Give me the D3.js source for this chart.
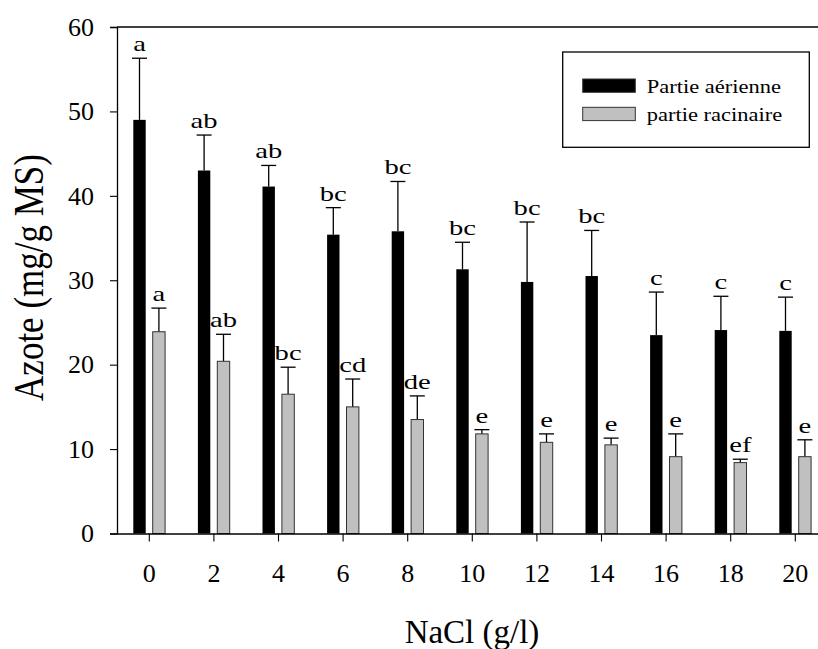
<!DOCTYPE html>
<html>
<head>
<meta charset="utf-8">
<script src="https://cdn.jsdelivr.net/npm/d3@7"></script>
<style>
  body { margin: 0; background: #fff; }
  svg text { font-family: "Liberation Serif", "Times New Roman", serif; fill: #000; }
</style>
</head>
<body>
<div id="app"></div>
<script>
// NaCl concentrations (g/l)
const categories = ['0', '2', '4', '6', '8', '10', '12', '14', '16', '18', '20'];
// Partie aérienne
const aerValues = [49.0, 43.0, 41.1, 35.4, 35.8, 31.3, 29.8, 30.5, 23.5, 24.1, 24.0];
const aerErrTop = [56.3, 47.2, 43.6, 38.6, 41.7, 34.5, 36.9, 35.9, 28.6, 28.1, 28.0];
const aerLetters = ['a', 'ab', 'ab', 'bc', 'bc', 'bc', 'bc', 'bc', 'c', 'c', 'c'];
// partie racinaire
const racValues = [23.9, 20.4, 16.5, 15.0, 13.5, 11.8, 10.8, 10.5, 9.1, 8.4, 9.1];
const racErrTop = [26.7, 23.6, 19.7, 18.3, 16.3, 12.3, 11.8, 11.3, 11.8, 8.8, 11.1];
const racLetters = ['a', 'ab', 'bc', 'cd', 'de', 'e', 'e', 'e', 'e', 'ef', 'e'];
const yTicks = [0, 10, 20, 30, 40, 50, 60];
const seriesNames = ['Partie aérienne', 'partie racinaire'];
const seriesColors = ['#000000', '#c0c0c0'];

const width = 818, height = 649;
const svg = d3.select('#app').append('svg')
  .attr('width', width)
  .attr('height', height);

const x = d3.scaleBand()
  .domain(categories)
  .range([117, 117 + 64.6 * categories.length]);

const y = d3.scaleLinear()
  .domain([0, 60])
  .range([533.5, 27]);

const series = [
  {key: 0, values: aerValues, err: aerErrTop, letters: aerLetters, offset: -16},
  {key: 1, values: racValues, err: racErrTop, letters: racLetters, offset: 3.4},
];
const barW = 12.4;

// bars
series.forEach((s) => {
  const g = svg.append('g');
  const rows = categories.map((c, i) => ({c, v: s.values[i], e: s.err[i], l: s.letters[i]}));
  const cx = (d) => x(d.c) + x.bandwidth() / 2 + s.offset + barW / 2;

  g.selectAll('line.err')
    .data(rows)
    .enter()
    .append('line')
    .attr('x1', cx)
    .attr('x2', cx)
    .attr('y1', (d) => y(d.v))
    .attr('y2', (d) => y(d.e))
    .attr('stroke', '#000')
    .attr('stroke-width', 1.3);

  g.selectAll('line.cap')
    .data(rows)
    .enter()
    .append('line')
    .attr('x1', (d) => cx(d) - 7.5)
    .attr('x2', (d) => cx(d) + 7.5)
    .attr('y1', (d) => y(d.e))
    .attr('y2', (d) => y(d.e))
    .attr('stroke', '#000')
    .attr('stroke-width', 1.3);

  g.selectAll('rect')
    .data(rows)
    .enter()
    .append('rect')
    .attr('x', (d) => cx(d) - barW / 2)
    .attr('y', (d) => y(d.v))
    .attr('width', barW)
    .attr('height', (d) => y(0) - y(d.v))
    .attr('fill', seriesColors[s.key])
    .attr('stroke', s.key === 0 ? 'none' : '#333')
    .attr('stroke-width', 1);

  g.selectAll('text')
    .data(rows)
    .enter()
    .append('text')
    .attr('text-anchor', 'middle')
    .attr('font-size', 22)
    .attr('transform', (d) => `translate(${cx(d)},${y(d.e) - 7}) scale(1.3,1)`)
    .text((d) => d.l);
});

// axes
const yAxis = svg.append('g')
  .attr('transform', 'translate(117,0)')
  .call(d3.axisLeft(y).tickValues(yTicks).tickSize(7).tickPadding(16));
yAxis.select('.domain').attr('stroke-width', 1.3);
yAxis.selectAll('.tick line').attr('stroke-width', 1.1);
yAxis.selectAll('text')
  .attr('font-size', 26)
  .attr('font-family', '"Liberation Serif", "Times New Roman", serif');

const xAxis = svg.append('g')
  .attr('transform', `translate(0,${y(0)})`)
  .call(d3.axisBottom(x).tickSize(8).tickPadding(22).tickSizeOuter(0));
xAxis.select('.domain').attr('stroke-width', 1.3);
xAxis.selectAll('.tick line').attr('stroke-width', 1.1);
xAxis.selectAll('text')
  .attr('font-size', 26)
  .attr('font-family', '"Liberation Serif", "Times New Roman", serif');

// top frame line
svg.append('line')
  .attr('x1', 117).attr('x2', width)
  .attr('y1', y(60)).attr('y2', y(60))
  .attr('stroke', '#000')
  .attr('stroke-width', 1.3);

// axis titles
svg.append('text')
  .attr('x', 472)
  .attr('y', 643)
  .attr('text-anchor', 'middle')
  .attr('font-size', 33)
  .text('NaCl (g/l)');

svg.append('text')
  .attr('transform', 'translate(43,277.5) rotate(-90) scale(1,1.2)')
  .attr('text-anchor', 'middle')
  .attr('font-size', 35)
  .text('Azote (mg/g MS)');

// legend
const legend = svg.append('g');
legend.append('rect')
  .attr('x', 562.7).attr('y', 52)
  .attr('width', 246.6).attr('height', 95.3)
  .attr('fill', '#fff')
  .attr('stroke', '#000')
  .attr('stroke-width', 1.3);
seriesNames.forEach((name, i) => {
  legend.append('rect')
    .attr('x', 582.7).attr('y', 79 + i * 28.3)
    .attr('width', 52.6).attr('height', 13.3)
    .attr('fill', seriesColors[i])
    .attr('stroke', '#333')
    .attr('stroke-width', 1);
  legend.append('text')
    .attr('transform', `translate(646.7,${93 + i * 28.3}) scale(1.25,1)`)
    .attr('font-size', 18)
    .text(name);
});
</script>
</body>
</html>
